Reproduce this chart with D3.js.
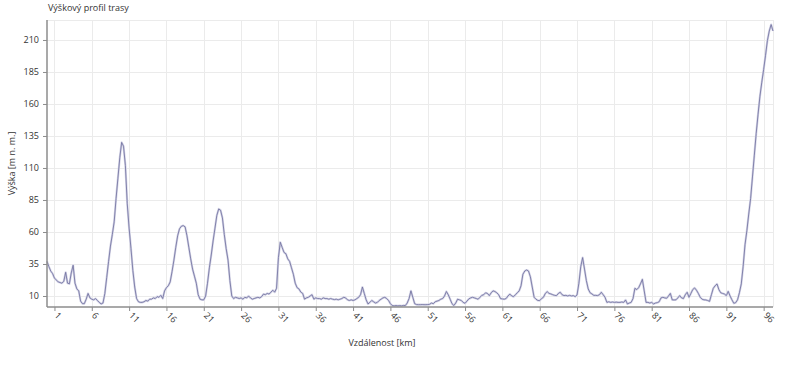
<!DOCTYPE html>
<html>
<head>
<meta charset="utf-8">
<script src="https://cdn.jsdelivr.net/npm/d3@7"></script>
<style>
	body { margin: 0; background: #fff; }
	svg { display: block; font-family: "Open Sans", "DejaVu Sans", sans-serif; }
</style>
</head>
<body>
<div id="chart"></div>
<script>
// elevation profile, one sample every 0.25 km
var stepKm = 0.25;
var elevation = [
	37,33,29.5,27.5,24,22.5,21,20.5,20,21.5,28.5,20,19.5,28,34,20,15.5,14,6,4,
	4,7.5,12,8.5,7.5,7,8,6.5,5,3.8,4.5,12,24.5,37,49,58,68,86,102,118,
	130,127,112,82,63,47,30,17,8,5.5,5,5,5.5,6.5,6,7.5,7.5,8.5,8,9.5,
	9,10.5,8,14,16.5,18,21,29,38,48,57,62.5,64.5,65,64,57,48,39,31,25.5,
	20,11,7.5,7,7,10,20,32,42,53,63,73,78,77,71,58,47,38,22,10,
	8,9,8.5,8,8.5,7.5,9,8.5,10,8.5,7.5,8,8.5,9,8.5,9.5,11.5,11,12,11.5,
	13,14.5,13,16,40,52,48,44,43,39,37,32,27,20,16.5,15.5,13,12,7.5,8.5,
	9,10,11,7.5,8.5,8,8,7.5,8.5,8,8,7.5,8,7.5,7.2,7.5,7,7.5,8,9,
	8.5,7,6.5,7,6.5,7,8,9,11,17,12,7,3.8,5,6.5,5.5,4.5,5,6.5,7.5,
	8.5,9,8,6.5,4,2.5,2.3,2.5,2.3,2.5,2.3,2.6,2.5,4.5,8,14,9,4,3.3,3.2,
	3.2,3.3,3.2,3.2,3.3,3.5,4.5,4,5.5,6,6.5,7.5,8,10,13.5,11,7.5,4,2.6,4.5,
	7.5,7,6.5,5,4.3,6,7.7,8.5,9,8.5,8,7.5,9,10.5,11,12.5,12,10.3,12.5,14,
	13.5,12.5,11,8,7.7,7.5,8,10,11.5,10,9.5,11,12.5,14,18,27,29.5,30.3,29.5,25,
	17,9,7.5,6.5,6.4,8,9,12,13.4,12,11.6,11,10.5,10.3,12,12.9,11,10.3,10.5,10,
	10.5,10,10.3,9.5,10.8,20,33,40,31,22,15.5,12.5,11.6,10.5,10.5,10.3,11,12.9,11,9,
	5,5.5,5,5.3,5,5.2,5,5,5.3,5,6.9,3.8,4.5,5,8,16,15,16.5,19.5,23,
	14,5,5,4.5,5,3.8,4.5,4.8,5.5,8.5,9,8.5,8.2,10,12,7,6.9,7,8.5,10.3,
	8.5,8,11,12.9,9,12,15,16.3,14.5,12,9,7.5,7,6.9,6.5,5.8,11,16,18,19.4,
	15,12.5,12,11.5,10.3,13.6,10,7,4.3,4.8,7,12.5,19.4,33,50,61,74,86,103,120,
	137,152,166,177,187,198,209.5,217,222,217
];
var xTicks = [1,6,11,16,21,26,31,36,41,46,51,56,61,66,71,76,81,86,91,96];
var yTicks = [10,35,60,85,110,135,160,185,210];
var title = 'Výškový profil trasy';
var xTitle = 'Vzdálenost [km]';
var yTitle = 'Výška [m n. m.]';

var width = 800, height = 367;
var margin = {top: 20, right: 27, bottom: 60, left: 47};
var plotW = width - margin.left - margin.right;
var plotH = height - margin.top - margin.bottom;

var data = elevation.map(function(v, i) { return {km: i*stepKm, h: v}; });

var x = d3.scaleLinear()
	.domain([0, d3.max(data, function(d) { return d.km; })])
	.range([0, plotW]);
var y = d3.scaleLinear()
	.domain([1.4, 225.6])
	.range([plotH, 0]);

var svg = d3.select('#chart').append('svg')
	.attr('width', width)
	.attr('height', height);

svg.append('text')
	.attr('x', 48).attr('y', 11)
	.attr('font-size', 9).attr('fill', '#333')
	.text(title);

var g = svg.append('g')
	.attr('transform', 'translate(' + margin.left + ',' + margin.top + ')');

// grid
var grid = g.append('g').attr('stroke', '#ebebeb').attr('stroke-width', 1);
grid.selectAll('line.h').data(yTicks).enter().append('line')
	.attr('x1', 0).attr('x2', plotW)
	.attr('y1', function(d) { return Math.round(y(d)) + 0.5; })
	.attr('y2', function(d) { return Math.round(y(d)) + 0.5; });
grid.selectAll('line.v').data(xTicks).enter().append('line')
	.attr('y1', 0).attr('y2', plotH)
	.attr('x1', function(d) { return Math.round(x(d)) + 0.5; })
	.attr('x2', function(d) { return Math.round(x(d)) + 0.5; });
grid.append('line').attr('x1', 0).attr('x2', plotW).attr('y1', 0.5).attr('y2', 0.5);
grid.append('line').attr('x1', plotW + 0.5).attr('x2', plotW + 0.5).attr('y1', 0).attr('y2', plotH);

// the profile line (light halo + thin core)
var line = d3.line()
	.x(function(d) { return x(d.km); })
	.y(function(d) { return y(d.h); });
g.append('path').datum(data)
	.attr('d', line)
	.attr('fill', 'none')
	.attr('stroke', '#d4d4e6')
	.attr('stroke-width', 2.2)
	.attr('stroke-linejoin', 'round');
g.append('path').datum(data)
	.attr('d', line)
	.attr('fill', 'none')
	.attr('stroke', '#6c6c9c')
	.attr('stroke-width', 0.8)
	.attr('stroke-linejoin', 'round');

// axes
var yAxis = g.append('g')
	.call(d3.axisLeft(y).tickValues(yTicks).tickSize(4).tickPadding(4));
var xAxis = g.append('g')
	.attr('transform', 'translate(0,' + plotH + ')')
	.call(d3.axisBottom(x).tickValues(xTicks).tickSize(4).tickFormat(d3.format('d')));

[yAxis, xAxis].forEach(function(a) {
	a.select('.domain').attr('stroke', '#8c8c8c').attr('stroke-width', 1.5);
	a.selectAll('.tick line').attr('stroke', '#8c8c8c');
	a.selectAll('.tick text').attr('fill', '#333').attr('font-size', 9)
		.attr('font-family', '"Open Sans", "DejaVu Sans", sans-serif');
});
yAxis.select('.domain').attr('d', 'M0,0V' + plotH);
xAxis.select('.domain').attr('d', 'M0,0H' + plotW);

xAxis.selectAll('.tick text')
	.attr('text-anchor', 'start')
	.attr('y', 0).attr('dy', 0)
	.attr('transform', 'translate(-1,9) rotate(45)');

svg.append('text')
	.attr('x', 382).attr('y', 346)
	.attr('text-anchor', 'middle')
	.attr('font-size', 9).attr('fill', '#333')
	.text(xTitle);

svg.append('text')
	.attr('transform', 'translate(15,' + (margin.top + plotH/2) + ') rotate(-90)')
	.attr('text-anchor', 'middle')
	.attr('font-size', 9).attr('fill', '#333')
	.text(yTitle);
</script>
</body>
</html>
